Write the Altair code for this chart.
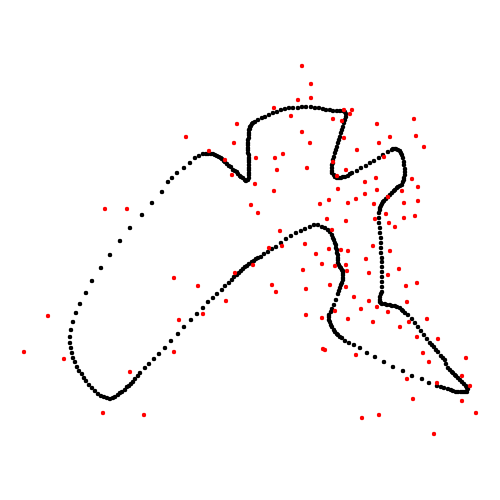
import altair as alt
import pandas as pd

# Black closed trajectory, (x, y) pairs in path order
path_points = [
    (76,313),(73,322),(71,330),(70,337),(70,343),(71,348),(72,353),(73,358),(75,362),(77,367),
    (79,371),(82,374),(84,378),(86,381),(89,385),(92,388),(95,391),(98,394),(101,396),(104,397),
    (107,398),(110,399),(113,398),(115,397),(118,395),(120,393),(122,392),(125,390),(127,387),(129,386),
    (131,384),(133,382),(135,379),(138,376),(140,373),(145,368),(149,364),(154,359),(159,354),(165,348),
    (171,341),(178,334),(184,327),(191,320),(197,314),(203,308),(208,302),(213,298),(217,294),(222,290),
    (225,286),(229,283),(232,280),(234,277),(237,275),(239,273),(241,271),(243,269),(245,267),(247,266),
    (249,264),(252,262),(254,261),(256,259),(258,258),(261,257),(264,254),(268,252),(272,249),(276,247),
    (281,243),(286,239),(291,236),(296,233),(301,231),(305,229),(310,227),(314,225),(318,225),(322,227),
    (325,228),(328,230),(330,232),(332,235),(333,238),(334,240),(335,243),(336,245),(336,248),(337,250),
    (337,253),(338,255),(338,258),(338,260),(338,263),(339,265),(340,267),(341,268),(342,270),(343,271),
    (343,273),(343,275),(343,278),(343,280),(342,283),(341,285),(340,288),(339,291),(338,294),(336,300),
    (334,305),(332,309),(331,312),(329,315),(329,317),(329,320),(330,322),(331,325),(332,327),(334,330),
    (335,332),(337,334),(338,335),(340,337),(342,338),(345,341),(349,343),(354,345),(360,348),(367,353),
    (375,357),(384,362),(393,367),(403,371),(412,376),(422,379),(429,383),(437,386),(441,387),(444,388),
    (448,389),(451,390),(453,391),(456,392),(458,392),(461,392),(463,392),(465,392),(467,392),(468,389),
    (467,388),(466,386),(464,384),(462,382),(460,380),(458,378),(456,376),(455,375),(453,373),(452,372),
    (450,370),(448,368),(446,364),(445,360),(443,358),(441,356),(438,352),(436,350),(434,347),(432,345),
    (430,343),(427,339),(424,335),(421,331),(418,327),(415,323),(412,319),(408,315),(405,313),(403,311),
    (402,310),(400,308),(397,307),(395,306),(392,306),(390,305),(387,305),(385,304),(382,304),(381,303),
    (380,302),(380,300),(380,297),(381,294),(382,292),(382,287),(382,282),(382,277),(382,272),(382,267),
    (382,262),(382,258),(381,253),(381,248),(381,243),(381,238),(380,233),(380,228),(379,223),(379,218),
    (379,213),(380,210),(380,208),(381,206),(382,204),(383,202),(384,201),(386,199),(388,197),(390,195),
    (392,193),(394,191),(395,190),(397,188),(398,187),(400,186),(402,185),(403,182),(404,180),(404,178),
    (405,175),(405,172),(405,169),(404,165),(404,162),(403,158),(402,155),(401,153),(400,151),(398,150),
    (396,149),(395,149),(393,149),(392,150),(388,152),(383,155),(379,158),(374,161),(370,163),(366,166),
    (361,168),(357,171),(352,173),(350,174),(348,176),(345,177),(343,177),(341,178),(339,178),(337,178),
    (335,177),(334,175),(332,173),(332,171),(332,168),(332,165),(333,163),(333,160),(334,157),(335,153),
    (336,150),(337,147),(338,143),(339,140),(340,137),(341,133),(342,130),(343,127),(344,123),(345,120),
    (346,117),(346,114),(345,112),(343,111),(340,111),(337,111),(333,111),(330,110),(326,110),(323,109),
    (319,108),(315,108),(311,107),(306,107),(302,107),(298,108),(293,108),(289,108),(285,109),(281,110),
    (277,112),(273,113),(269,115),(265,117),(262,118),(258,120),(255,122),(253,123),(252,124),(251,126),
    (250,127),(250,129),(249,130),(249,133),(249,135),(249,138),(248,140),(248,143),(248,145),(248,148),
    (248,150),(248,153),(249,155),(249,158),(249,160),(249,162),(249,165),(249,168),(249,170),(249,173),
    (249,175),(249,178),(248,180),(246,181),(245,180),(243,178),(241,177),(240,176),(238,174),(237,172),
    (235,171),(233,170),(231,167),(229,166),(227,164),(225,162),(224,161),(222,159),(221,158),(219,157),
    (217,156),(215,155),(213,154),(211,154),(208,154),(206,154),(203,154),(199,156),(195,158),(190,163),
    (184,168),(177,173),(172,178),(168,182),(162,192),(152,203),(142,215),(130,228),(120,241),(110,255),
    (101,268),(92,281),(86,293),(80,304),
]

# Red scattered observations, (x, y) pairs
red_points = [
    (302,66),(311,84),(298,100),(311,98),(274,108),(291,116),(237,124),(186,137),(302,132),(310,143),
    (234,143),(209,151),(283,154),(275,158),(256,158),(277,170),(307,168),(225,160),(232,175),(255,184),
    (344,110),(352,110),(350,114),(333,119),(342,121),(377,124),(414,119),(416,136),(390,137),(379,143),
    (424,147),(344,138),(357,150),(384,157),(333,162),(346,170),(337,176),(376,178),(365,182),(412,179),
    (274,191),(251,205),(258,213),(320,204),(280,231),(269,248),(282,246),(305,244),(316,254),(322,264),
    (253,265),(235,273),(303,270),(174,278),(198,286),(272,285),(276,292),(306,289),(226,301),(203,314),
    (306,315),(338,189),(377,190),(402,191),(418,187),(365,194),(329,200),(356,199),(348,203),(388,197),
    (374,204),(404,203),(418,201),(327,219),(346,221),(375,219),(386,214),(404,218),(415,216),(389,223),
    (395,227),(332,230),(373,246),(329,249),(341,250),(348,251),(390,251),(366,259),(335,266),(346,265),
    (347,271),(369,273),(388,275),(399,269),(330,285),(346,287),(406,286),(417,283),(354,297),(369,301),
    (407,302),(335,311),(361,309),(377,307),(388,312),(348,319),(373,322),(400,327),(409,322),(427,319),
    (417,337),(438,339),(325,350),(356,355),(423,353),(429,362),(466,358),(407,379),(437,383),(462,376),
    (470,386),(413,399),(462,401),(476,413),(362,418),(379,415),(434,434),(179,320),(174,352),(322,318),
    (323,349),(48,316),(24,352),(64,359),(130,372),(103,413),(144,415),(105,209),(127,209),
]

path_x = [p[0] for p in path_points]
path_y = [p[1] for p in path_points]
red_x = [p[0] for p in red_points]
red_y = [p[1] for p in red_points]

black = pd.DataFrame({"x": path_x, "y": path_y})
red = pd.DataFrame({"x": red_x, "y": red_y})

xs = alt.Scale(domain=[0, 500], nice=False, zero=False)
ys = alt.Scale(domain=[500, 0], nice=False, zero=False)

layer_black = alt.Chart(black).mark_circle(color="black", size=21, opacity=1).encode(
    x=alt.X("x:Q", scale=xs, axis=None),
    y=alt.Y("y:Q", scale=ys, axis=None),
)
layer_red = alt.Chart(red).mark_circle(color="red", size=19, opacity=1).encode(
    x=alt.X("x:Q", scale=xs, axis=None),
    y=alt.Y("y:Q", scale=ys, axis=None),
)

chart = (layer_black + layer_red).properties(
    width=500, height=500, padding=0, autosize="none"
).configure_view(stroke=None)

chart.save("out.html", embed_options={"renderer": "svg", "actions": False})
